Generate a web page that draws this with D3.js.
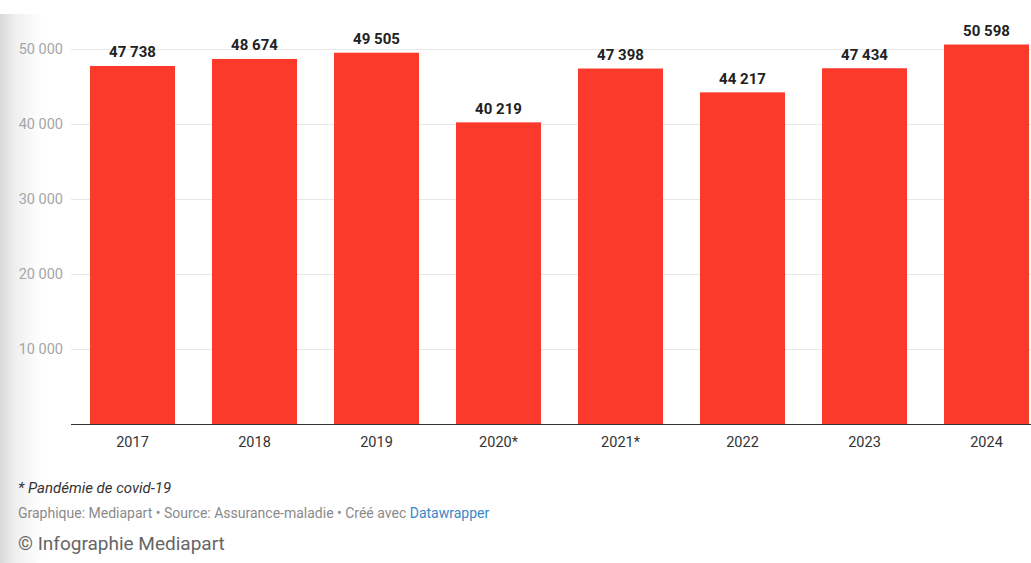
<!DOCTYPE html>
<html>
<head>
<meta charset="utf-8">
<script src="https://cdn.jsdelivr.net/npm/d3@7"></script>
<style>
  html, body { margin: 0; padding: 0; background: #fff; }
  svg { display: block; font-family: Roboto, "Noto Sans", sans-serif; }
</style>
</head>
<body>
<svg id="chart" width="1031" height="563"></svg>
<script>
const years = ["2017", "2018", "2019", "2020*", "2021*", "2022", "2023", "2024"];
const values = [47738, 48674, 49505, 40219, 47398, 44217, 47434, 50598];
const yTicks = [10000, 20000, 30000, 40000, 50000];
const footnote = "* Pandémie de covid-19";
const sourceText = "Graphique: Mediapart • Source: Assurance-maladie • Créé avec ";
const sourceLink = "Datawrapper";
const credit = "© Infographie Mediapart";

const svg = d3.select("#chart");
const W = 1031, H = 563;

// left shadow strip (screenshot edge)
const defs = svg.append("defs");
const grad = defs.append("linearGradient").attr("id", "edge").attr("x1", "0").attr("x2", "1").attr("y1", "0").attr("y2", "0");
grad.append("stop").attr("offset", "0").attr("stop-color", "#d9d9d9");
grad.append("stop").attr("offset", "0.35").attr("stop-color", "#efefef");
grad.append("stop").attr("offset", "1").attr("stop-color", "#ffffff");
svg.append("rect").attr("x", 0).attr("y", 14).attr("width", 42).attr("height", H - 14).attr("fill", "url(#edge)");

const fmt = v => d3.format(",")(v).replace(/,/g, " ");

const x = d3.scaleBand().domain(years).range([71.5, 1047.5]).paddingInner(37 / 122).paddingOuter(37 / 244);
const y = d3.scaleLinear().domain([0, 50000]).range([424, 49]);

// gridlines
svg.append("g").selectAll("line").data(yTicks).join("line")
  .attr("x1", 71).attr("x2", W)
  .attr("y1", d => Math.round(y(d)) + 0.5).attr("y2", d => Math.round(y(d)) + 0.5)
  .attr("stroke", "#e8e8e8").attr("stroke-width", 1);

// y tick labels
svg.append("g").selectAll("text").data(yTicks).join("text")
  .attr("x", 63).attr("y", d => y(d)).attr("dy", "0.35em")
  .attr("text-anchor", "end").attr("font-size", 14.5).attr("fill", "#a6a6a6")
  .text(fmt);

// bars
svg.append("g").selectAll("rect").data(values).join("rect")
  .attr("x", (d, i) => x(years[i])).attr("width", x.bandwidth())
  .attr("y", d => y(d)).attr("height", d => y(0) - y(d))
  .attr("fill", "#fb3a2b");

// value labels
svg.append("g").selectAll("text").data(values).join("text")
  .attr("x", (d, i) => x(years[i]) + x.bandwidth() / 2)
  .attr("y", d => y(d) - 8.5)
  .attr("text-anchor", "middle").attr("font-size", 15).attr("font-weight", 700).attr("fill", "#222")
  .text(fmt);

// baseline
svg.append("line").attr("x1", 71).attr("x2", W).attr("y1", 424.5).attr("y2", 424.5)
  .attr("stroke", "#333").attr("stroke-width", 1);

// x axis labels
svg.append("g").selectAll("text").data(years).join("text")
  .attr("x", d => x(d) + x.bandwidth() / 2).attr("y", 442).attr("dy", "0.35em")
  .attr("text-anchor", "middle").attr("font-size", 14.5).attr("fill", "#333")
  .text(d => d);

// footer
svg.append("text").attr("x", 18).attr("y", 488).attr("dy", "0.35em")
  .attr("font-size", 15).attr("font-style", "italic").attr("fill", "#333").text(footnote);
const src = svg.append("text").attr("x", 18).attr("y", 513).attr("dy", "0.35em")
  .attr("font-size", 14).attr("fill", "#8a8a8a");
src.append("tspan").text(sourceText);
src.append("tspan").attr("fill", "#3a87c8").text(sourceLink);
svg.append("text").attr("x", 18).attr("y", 543).attr("dy", "0.35em")
  .attr("font-size", 19).attr("fill", "#666").text(credit);
</script>
</body>
</html>
